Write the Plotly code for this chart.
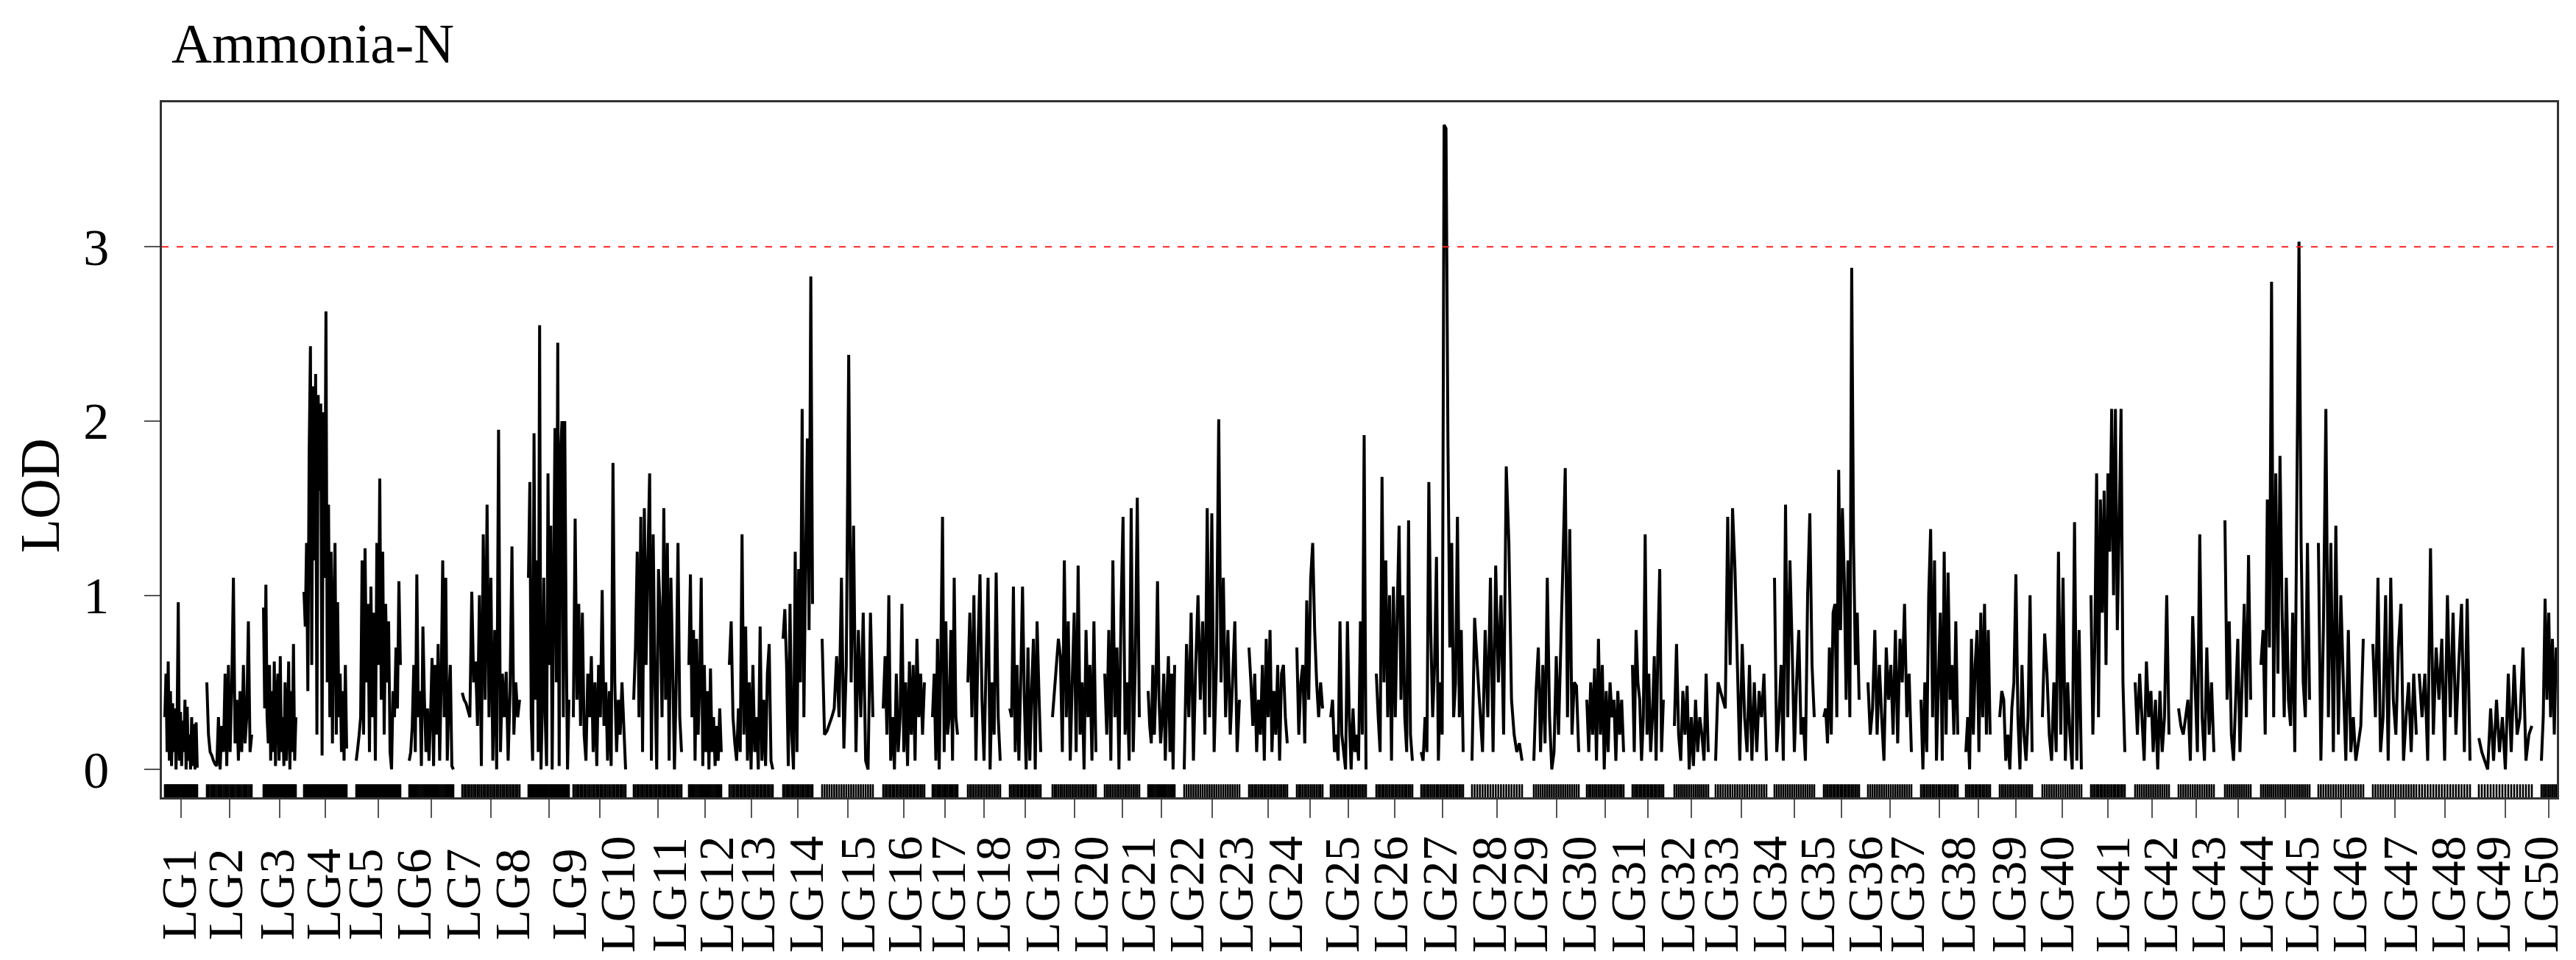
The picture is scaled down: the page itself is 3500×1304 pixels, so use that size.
import plotly.graph_objects as go

# linkage groups: start / end position on the concatenated map (cM)
lg_names = ["LG%d" % i for i in range(1, 51)]
lg_start = [4, 61, 138, 193, 264, 336, 408, 498, 559, 641,
            716, 771, 844, 897, 980, 1047, 1095, 1152, 1210, 1281,
            1340, 1389, 1477, 1542, 1588, 1650, 1711, 1780, 1864, 1936,
            1998, 2055, 2111, 2191, 2258, 2318, 2390, 2451, 2497, 2555,
            2621, 2681, 2740, 2803, 2852, 2930, 3004, 3067, 3148, 3233]
lg_end = [48, 122, 182, 251, 324, 396, 486, 553, 630, 706,
          760, 830, 884, 966, 1036, 1081, 1139, 1194, 1269, 1328,
          1376, 1464, 1529, 1577, 1636, 1699, 1768, 1848, 1925, 1986,
          2040, 2101, 2180, 2245, 2306, 2377, 2440, 2484, 2541, 2608,
          2667, 2727, 2788, 2838, 2918, 2991, 3063, 3136, 3220, 3253]
# where the (shifted) group names are printed
label_x = [23, 86, 156, 219, 276, 342, 409, 476, 553, 619,
           689, 753, 809, 875, 945, 1009, 1068, 1129, 1196, 1262,
           1326, 1392, 1459, 1526, 1603, 1669, 1736, 1803, 1859, 1925,
           1992, 2059, 2118, 2184, 2249, 2314, 2371, 2440, 2509, 2574,
           2650, 2715, 2780, 2845, 2907, 2972, 3041, 3106, 3167, 3232]

# LOD scan along each linkage group
lod_01 = [0.3, 0.55, 0.1, 0.62, 0.05, 0.45, 0.02, 0.38, 0.1, 0.35, 0.0, 0.3, 0.96, 0.05, 0.33,
          0.02, 0.28, 0.1, 0.4, 0.0, 0.36, 0.05, 0.2, 0.0, 0.3, 0.02, 0.26, 0.0, 0.27, 0.01]
lod_02 = [0.5, 0.2, 0.1, 0.08, 0.05, 0.03, 0.02, 0.3, 0.0, 0.25, 0.1, 0.55, 0.02, 0.6, 0.1,
          0.48, 1.1, 0.15, 0.4, 0.05, 0.45, 0.1, 0.6, 0.15, 0.3, 0.85, 0.1, 0.2]
lod_03 = [0.93, 0.35, 1.06, 0.3, 0.15, 0.6, 0.05, 0.45, 0.1, 0.62, 0.02, 0.4, 0.55, 0.05, 0.65,
          0.1, 0.3, 0.02, 0.5, 0.05, 0.25, 0.62, 0.0, 0.45, 0.1, 0.72, 0.05, 0.3]
lod_04 = [1.02, 0.82, 1.3, 0.45, 1.8, 2.43, 0.6, 2.2, 1.2, 2.27, 0.2, 2.15, 1.6, 2.1, 0.08,
          2.05, 1.1, 2.63, 0.5, 1.52, 0.3, 1.25, 0.15, 0.9, 1.3, 0.2, 0.96, 0.3, 0.55, 0.1,
          0.45, 0.05, 0.6, 0.12]
lod_05 = [0.05, 0.12, 0.2, 0.3, 1.2, 0.2, 1.27, 0.5, 0.95, 0.1, 1.05, 0.3, 0.9, 0.05, 1.3,
          0.6, 1.67, 0.4, 1.25, 0.2, 0.95, 0.5, 0.85, 0.1, 0.0, 0.45, 0.3, 0.7, 0.35, 1.08, 0.6]
lod_06 = [0.05, 0.1, 0.25, 0.6, 0.1, 1.12, 0.3, 0.45, 0.02, 0.82, 0.4, 0.1, 0.35, 0.05, 0.3,
          0.64, 0.02, 0.6, 0.2, 0.72, 0.05, 0.5, 1.2, 0.3, 1.1, 0.05, 0.4, 0.6, 0.02, 0.0]
lod_07 = [0.44, 0.4, 0.38, 0.34, 0.3, 1.02, 0.5, 0.62, 0.25, 1.0, 0.02, 1.35, 0.4, 1.52, 0.3,
          1.1, 0.05, 0.8, 0.0, 1.95, 0.1, 0.55, 0.3, 0.56, 0.05, 0.45, 1.28, 0.2, 0.5, 0.3, 0.4]
lod_08 = [1.1, 1.65, 0.3, 0.05, 1.93, 0.4, 1.2, 0.1, 2.55, 0.0, 0.4, 1.1, 0.3, 0.02, 1.7,
          0.6, 1.4, 0.0, 1.0, 1.96, 0.5, 2.45, 0.02, 1.8, 2.0, 0.3, 2.0, 0.8, 0.0, 0.4]
lod_09 = [0.3, 1.44, 0.4, 0.95, 0.25, 0.9, 0.2, 0.05, 0.55, 0.3, 0.65, 0.1, 0.5, 0.02, 0.6,
          0.3, 1.03, 0.25, 0.5, 0.05, 0.45, 0.02, 1.76, 0.5, 0.1, 0.4, 0.2, 0.5, 0.25, 0.0]
lod_10 = [0.4, 0.7, 1.25, 0.3, 1.45, 0.1, 1.5, 0.6, 1.2, 1.7, 0.05, 1.35, 0.5, 0.0, 1.15,
          0.9, 0.3, 1.5, 0.4, 1.3, 0.05, 1.1, 0.6, 0.0, 0.5, 1.3, 0.3, 0.1]
lod_11 = [0.6, 1.12, 0.3, 0.8, 0.05, 0.75, 0.2, 0.5, 1.1, 0.02, 0.6, 0.1, 0.45, 0.0, 0.58,
          0.1, 0.3, 0.02, 0.25, 0.05, 0.35, 0.1]
lod_12 = [0.6, 0.85, 0.3, 0.15, 0.05, 0.35, 0.1, 1.35, 0.2, 0.82, 0.05, 0.5, 0.0, 0.6, 0.1,
          0.3, 0.0, 0.82, 0.05, 0.4, 0.02, 0.55, 0.72, 0.05, 0.0]
lod_13 = [0.75, 0.92, 0.6, 0.02, 0.95, 0.2, 0.0, 1.25, 0.1, 1.15, 0.5, 2.07, 0.3, 1.2, 1.9,
          0.8, 2.83, 0.95]
lod_14 = [0.75, 0.2, 0.22, 0.26, 0.3, 0.35, 0.65, 0.3, 1.1, 0.12, 0.6, 2.38, 0.5, 1.4, 0.1,
          0.8, 0.3, 0.9, 0.05, 0.0, 0.9, 0.3]
lod_15 = [0.35, 0.65, 0.2, 1.0, 0.05, 0.3, 0.0, 0.55, 0.1, 0.3, 0.95, 0.1, 0.5, 0.02, 0.62,
          0.2, 0.6, 0.05, 0.75, 0.3, 0.55, 0.2, 0.5]
lod_16 = [0.3, 0.55, 0.05, 0.75, 0.0, 0.65, 1.45, 0.1, 0.85, 0.2, 0.3, 0.8, 0.05, 1.1, 0.3, 0.2]
lod_17 = [0.5, 0.9, 0.3, 1.0, 0.05, 0.7, 1.12, 0.4, 0.05, 0.6, 1.1, 0.0, 0.5, 0.2, 1.13, 0.3, 0.05]
lod_18 = [0.35, 0.3, 1.05, 0.1, 0.6, 0.05, 0.5, 1.05, 0.4, 0.0, 0.7, 0.05, 0.45, 0.75, 0.0,
          0.85, 0.45, 0.1]
lod_19 = [0.3, 0.45, 0.6, 0.75, 0.65, 0.1, 1.2, 0.3, 0.85, 0.05, 0.5, 0.9, 0.1, 1.17, 0.2,
          0.5, 0.0, 0.8, 0.3, 0.6, 0.05, 0.85, 0.1]
lod_20 = [0.55, 0.2, 0.8, 0.05, 1.2, 0.3, 0.7, 0.0, 0.9, 1.45, 0.2, 0.5, 0.05, 1.5, 0.1, 0.6,
          1.56, 0.3]
lod_21 = [0.45, 0.25, 0.15, 0.6, 0.2, 0.5, 1.08, 0.4, 0.15, 0.3, 0.55, 0.05, 0.4, 0.65, 0.1,
          0.55, 0.0, 0.6]
lod_22 = [0.0, 0.72, 0.3, 0.9, 0.05, 0.6, 1.0, 0.4, 0.85, 0.2, 1.5, 0.3, 1.47, 0.1, 0.6,
          2.01, 0.5, 1.1, 0.3, 0.8, 0.2, 0.5, 0.85, 0.1, 0.4]
lod_23 = [0.7, 0.5, 0.25, 0.55, 0.1, 0.4, 0.2, 0.6, 0.05, 0.75, 0.3, 0.8, 0.1, 0.45, 0.2,
          0.6, 0.05, 0.55, 0.6, 0.3, 0.15]
lod_24 = [0.7, 0.2, 0.5, 0.6, 0.15, 0.97, 0.4, 1.1, 1.3, 0.8, 0.5, 0.3, 0.5, 0.35]
lod_25 = [0.3, 0.4, 0.1, 0.2, 0.05, 0.85, 0.2, 0.1, 0.0, 0.85, 0.3, 0.0, 0.35, 0.1, 0.2,
          0.05, 0.85, 0.2, 1.92, 0.0]
lod_26 = [0.55, 0.3, 0.1, 1.68, 0.5, 1.2, 0.3, 1.0, 0.05, 1.05, 0.3, 0.9, 1.4, 0.4, 1.0,
          0.3, 0.1, 1.43, 0.2, 0.05]
lod_27 = [0.1, 0.05, 0.3, 0.1, 1.65, 0.8, 0.3, 0.6, 1.22, 0.05, 0.5, 0.2, 3.7, 3.68, 1.9,
          0.7, 1.3, 0.3, 0.5, 1.45, 0.3, 0.8, 0.1]
lod_28 = [0.05, 0.87, 0.6, 0.35, 0.1, 0.8, 0.3, 1.1, 0.1, 1.17, 0.5, 1.0, 0.2, 1.74, 1.3,
          0.4, 0.2, 0.1, 0.15, 0.05]
lod_29 = [0.05, 0.45, 0.7, 0.1, 0.6, 0.15, 1.1, 0.3, 0.0, 0.1, 0.65, 0.2, 0.7, 1.2, 1.73,
          0.3, 1.38, 0.2, 0.5, 0.48, 0.1]
lod_30 = [0.4, 0.1, 0.5, 0.2, 0.58, 0.05, 0.75, 0.2, 0.6, 0.0, 0.45, 0.1, 0.5, 0.3, 0.4,
          0.05, 0.45, 0.2, 0.4, 0.1]
lod_31 = [0.6, 0.1, 0.8, 0.5, 0.4, 0.05, 0.3, 1.35, 0.2, 0.55, 0.1, 0.3, 0.65, 0.05, 0.7,
          1.15, 0.1, 0.4]
lod_32 = [0.25, 0.72, 0.2, 0.05, 0.45, 0.2, 0.48, 0.0, 0.3, 0.02, 0.4, 0.1, 0.3, 0.2, 0.05,
          0.55, 0.1]
lod_33 = [0.05, 0.5, 0.45, 0.4, 0.35, 1.45, 0.6, 1.5, 1.15, 0.6, 0.05, 0.72, 0.3, 0.1, 0.6,
          0.05, 0.5, 0.1, 0.45, 0.3, 0.55, 0.05]
lod_34 = [1.1, 0.1, 0.3, 0.6, 0.05, 1.52, 0.3, 1.2, 0.7, 0.1, 0.5, 0.8, 0.2, 0.3, 0.05,
          1.0, 1.47, 0.6, 0.3]
lod_35 = [0.3, 0.35, 0.15, 0.7, 0.2, 0.9, 0.95, 0.3, 1.72, 0.8, 1.5, 1.1, 0.4, 1.2, 0.3,
          2.88, 1.3, 0.6, 0.9, 0.4]
lod_36 = [0.5, 0.2, 0.35, 0.8, 0.2, 0.6, 0.3, 0.05, 0.7, 0.4, 0.6, 0.2, 0.8, 0.15, 0.75,
          0.5, 0.95, 0.3, 0.55, 0.1]
lod_37 = [0.4, 0.0, 0.5, 0.1, 1.0, 1.38, 0.3, 1.2, 0.05, 0.5, 0.9, 0.05, 1.25, 0.2, 1.13,
          0.4, 0.6, 0.2, 0.85, 0.2]
lod_38 = [0.1, 0.3, 0.0, 0.75, 0.2, 0.6, 0.8, 0.1, 0.9, 0.3, 0.95, 0.2, 0.8, 0.2]
lod_39 = [0.3, 0.45, 0.4, 0.05, 0.2, 0.0, 0.35, 0.5, 1.12, 0.3, 0.0, 0.6, 0.2, 0.05, 0.3,
          1.0, 0.1]
lod_40 = [0.3, 0.78, 0.55, 0.2, 0.05, 0.5, 0.1, 1.25, 0.2, 1.1, 0.05, 0.5, 0.2, 0.0, 1.42,
          0.05, 0.8, 0.0]
lod_41 = [1.0, 0.2, 0.7, 1.7, 0.3, 1.55, 0.9, 1.6, 0.6, 1.7, 1.25, 2.07, 1.0, 2.07, 0.8,
          1.4, 2.07, 0.5, 0.1]
lod_42 = [0.5, 0.2, 0.55, 0.3, 0.05, 0.62, 0.3, 0.45, 0.1, 0.4, 0.0, 0.45, 0.1, 0.3, 1.0, 0.2]
lod_43 = [0.35, 0.25, 0.2, 0.3, 0.4, 0.05, 0.88, 0.5, 0.1, 1.35, 0.3, 0.05, 0.7, 0.2, 0.5, 0.1]
lod_44 = [1.43, 0.4, 0.85, 0.2, 0.05, 0.4, 0.75, 0.1, 0.5, 0.95, 0.3, 1.23, 0.4]
lod_45 = [0.6, 0.8, 0.2, 1.55, 0.7, 2.8, 0.3, 1.7, 0.55, 1.8, 0.9, 0.3, 1.1, 0.4, 0.25,
          0.9, 0.1, 1.6, 3.03, 1.3, 0.5, 0.3, 1.3, 0.4]
lod_46 = [1.3, 0.05, 0.8, 2.07, 0.3, 1.3, 0.1, 1.4, 0.2, 1.0, 0.5, 0.05, 0.8, 0.1, 0.3,
          0.05, 0.15, 0.25, 0.75]
lod_47 = [0.72, 0.3, 1.1, 0.1, 0.3, 1.0, 0.05, 1.1, 0.4, 0.2, 0.7, 0.95, 0.05, 0.3, 0.5,
          0.1, 0.55, 0.2]
lod_48 = [0.55, 0.3, 0.55, 0.05, 1.27, 0.2, 0.7, 0.4, 0.75, 0.05, 1.0, 0.3, 0.9, 0.2, 0.6,
          0.95, 0.1, 0.98, 0.05]
lod_49 = [0.18, 0.1, 0.05, 0.0, 0.35, 0.05, 0.4, 0.1, 0.3, 0.0, 0.55, 0.1, 0.6, 0.2, 0.3,
          0.7, 0.05, 0.2, 0.25]
lod_50 = [0.05, 0.3, 0.98, 0.4, 0.9, 0.3, 0.75, 0.2, 0.7]

lod_lists = [lod_01, lod_02, lod_03, lod_04, lod_05, lod_06, lod_07, lod_08, lod_09, lod_10,
             lod_11, lod_12, lod_13, lod_14, lod_15, lod_16, lod_17, lod_18, lod_19, lod_20,
             lod_21, lod_22, lod_23, lod_24, lod_25, lod_26, lod_27, lod_28, lod_29, lod_30,
             lod_31, lod_32, lod_33, lod_34, lod_35, lod_36, lod_37, lod_38, lod_39, lod_40,
             lod_41, lod_42, lod_43, lod_44, lod_45, lod_46, lod_47, lod_48, lod_49, lod_50]

threshold = 3.0

FONT = "Liberation Serif, Times New Roman, serif"

# build the concatenated scan, one break between groups
line_x, line_y = [], []
rug_x, rug_y = [], []
for start, end, vals in zip(lg_start, lg_end, lod_lists):
    n = len(vals)
    step = (end - start) / (n - 1)
    for k, v in enumerate(vals):
        pos = start + k * step
        line_x.append(pos)
        line_y.append(v)
        rug_x += [pos, pos, None]
        rug_y += [-0.085, -0.16, None]
    line_x.append(None)
    line_y.append(None)

tick_pos = [(s + e) / 2 for s, e in zip(lg_start, lg_end)]

fig = go.Figure()
fig.add_trace(go.Scatter(x=line_x, y=line_y, mode="lines",
                         line=dict(color="black", width=4, simplify=False),
                         hoverinfo="skip", showlegend=False))
fig.add_trace(go.Scatter(x=rug_x, y=rug_y, mode="lines",
                         line=dict(color="black", width=2.6),
                         hoverinfo="skip", showlegend=False))
fig.add_hline(y=threshold, line=dict(color="#ff2020", width=2, dash="9px,11px"))

# group names, shifted so they do not overlap
for name, lx in zip(lg_names, label_x):
    fig.add_annotation(x=lx, xref="x", y=-0.14, yref="paper", text=name,
                       textangle=-90, showarrow=False, xanchor="center", yanchor="middle",
                       font=dict(family=FONT, size=68, color="black"))

fig.add_annotation(x=0.0034, xref="paper", y=1.085, yref="paper", text="Ammonia-N",
                   showarrow=False, xanchor="left", yanchor="middle",
                   font=dict(family=FONT, size=76, color="black"))
fig.add_annotation(x=-0.051, xref="paper", y=0.434, yref="paper", text="LOD",
                   textangle=-90, showarrow=False, xanchor="center", yanchor="middle",
                   font=dict(family=FONT, size=76, color="black"))

fig.update_layout(
    width=3500, height=1304,
    margin=dict(l=212, r=34, t=131, b=229),
    paper_bgcolor="white", plot_bgcolor="white",
    xaxis=dict(range=[0, 3254], tickvals=tick_pos, ticktext=[""] * len(tick_pos),
               ticks="outside", ticklen=25, tickwidth=2, tickcolor="#555555",
               showgrid=False, zeroline=False, showline=True, mirror=True,
               linecolor="#333333", linewidth=2.5),
    yaxis=dict(range=[-0.16, 3.83], tickvals=[0, 1, 2, 3], ticktext=["0", "1", "2", "3"],
               ticks="outside", ticklen=21, tickwidth=2, tickcolor="#555555",
               ticklabelstandoff=34,
               tickfont=dict(family=FONT, size=70, color="black"),
               showgrid=False, zeroline=False, showline=True, mirror=True,
               linecolor="#333333", linewidth=2.5),
)

fig.write_html("out.html")
